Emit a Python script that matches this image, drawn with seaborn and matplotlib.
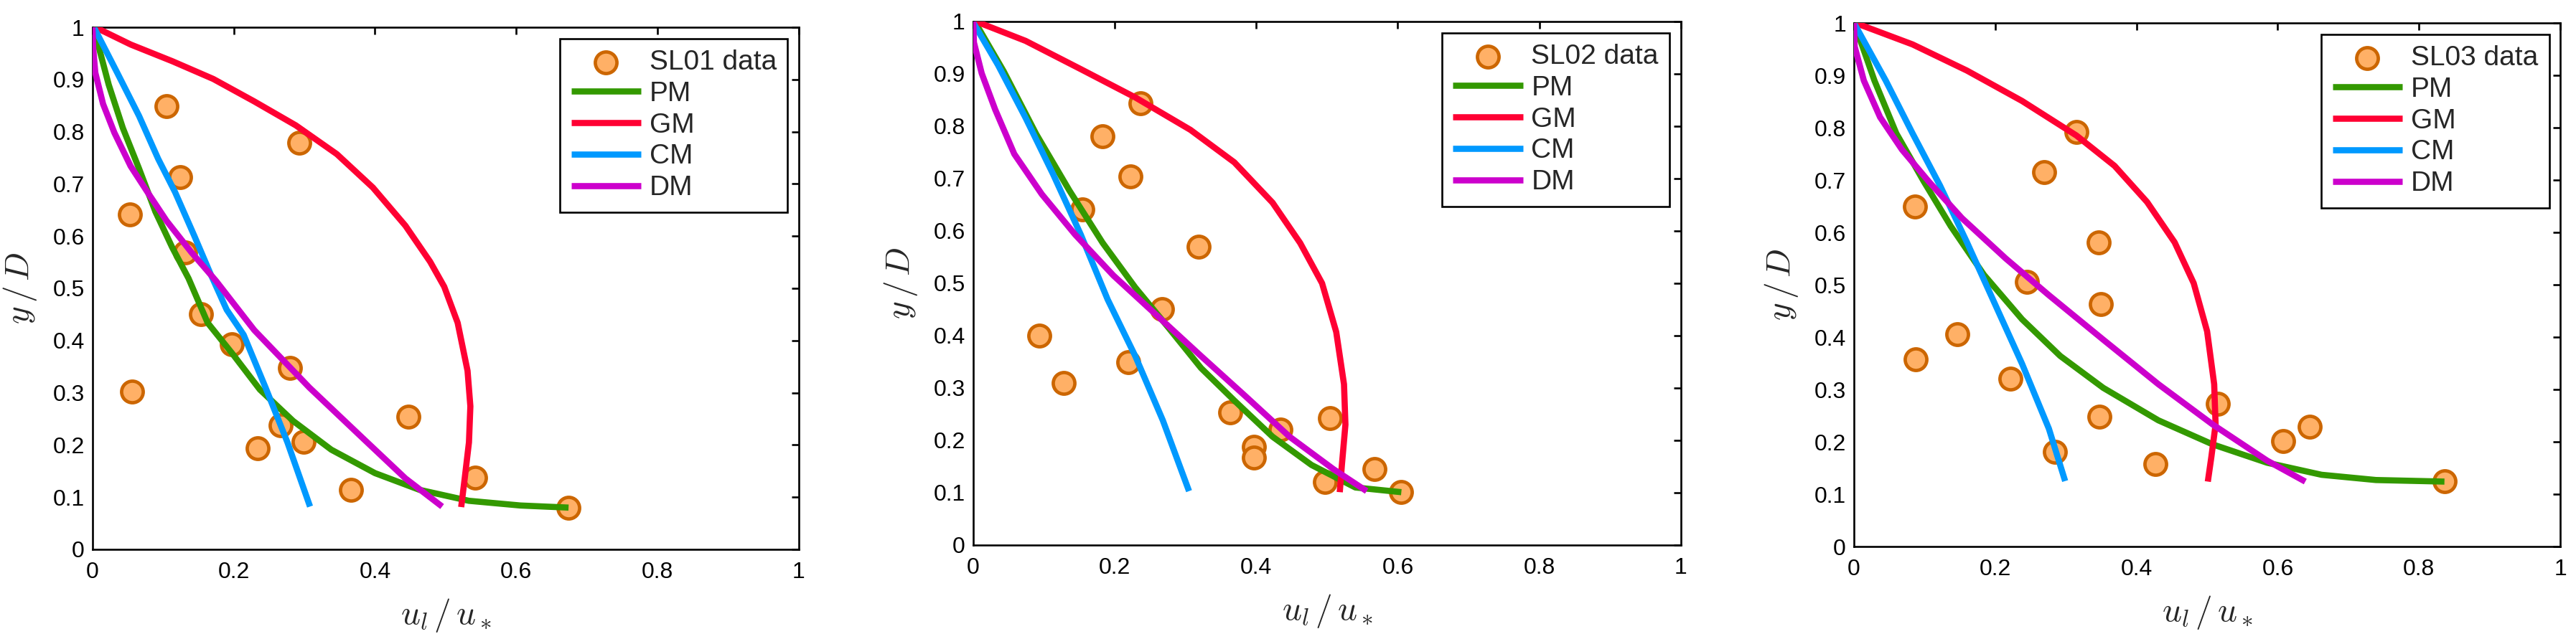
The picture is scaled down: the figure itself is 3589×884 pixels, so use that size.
import matplotlib
matplotlib.use("Agg")
import matplotlib.pyplot as plt
import seaborn as sns

# ---- data ----
names = ["SL01", "SL02", "SL03"]

# measured points
sl01_x = [0.105, 0.293, 0.124, 0.053, 0.131, 0.154, 0.197, 0.280, 0.056, 0.447, 0.266, 0.299, 0.234, 0.542, 0.366, 0.674]
sl01_y = [0.849, 0.779, 0.713, 0.641, 0.568, 0.450, 0.393, 0.347, 0.302, 0.254, 0.237, 0.206, 0.193, 0.137, 0.114, 0.080]
sl02_x = [0.236, 0.183, 0.222, 0.154, 0.319, 0.267, 0.093, 0.219, 0.128, 0.363, 0.504, 0.434, 0.397, 0.397, 0.567, 0.497, 0.605]
sl02_y = [0.844, 0.781, 0.704, 0.641, 0.570, 0.451, 0.400, 0.349, 0.309, 0.254, 0.242, 0.221, 0.188, 0.167, 0.145, 0.120, 0.102]
sl03_x = [0.315, 0.269, 0.086, 0.346, 0.245, 0.350, 0.146, 0.087, 0.222, 0.515, 0.348, 0.645, 0.608, 0.285, 0.427, 0.836]
sl03_y = [0.792, 0.715, 0.649, 0.581, 0.506, 0.463, 0.405, 0.358, 0.320, 0.272, 0.248, 0.229, 0.202, 0.181, 0.158, 0.124]

# model curves, SL01
pm1_x = [0.003, 0.006, 0.023, 0.043, 0.066, 0.089, 0.113, 0.136, 0.163, 0.198, 0.237, 0.284, 0.338, 0.400, 0.463, 0.533, 0.606, 0.674]
pm1_y = [0.995, 0.977, 0.890, 0.807, 0.729, 0.647, 0.578, 0.519, 0.434, 0.375, 0.306, 0.246, 0.191, 0.146, 0.114, 0.093, 0.084, 0.080]
gm1_x = [0.004, 0.054, 0.113, 0.171, 0.229, 0.288, 0.346, 0.397, 0.443, 0.478, 0.498, 0.517, 0.531, 0.535, 0.533, 0.527, 0.522]
gm1_y = [1.000, 0.967, 0.935, 0.901, 0.858, 0.812, 0.757, 0.693, 0.620, 0.551, 0.503, 0.434, 0.342, 0.274, 0.205, 0.136, 0.081]
cm1_x = [0.002, 0.035, 0.066, 0.093, 0.117, 0.144, 0.167, 0.190, 0.214, 0.245, 0.276, 0.308]
cm1_y = [1.000, 0.913, 0.830, 0.748, 0.684, 0.601, 0.528, 0.459, 0.411, 0.310, 0.205, 0.082]
dm1_x = [0.000, 0.001, 0.004, 0.015, 0.031, 0.054, 0.078, 0.105, 0.140, 0.175, 0.229, 0.307, 0.385, 0.443, 0.495]
dm1_y = [1.000, 0.960, 0.913, 0.853, 0.798, 0.734, 0.684, 0.629, 0.569, 0.514, 0.420, 0.310, 0.210, 0.136, 0.082]

# model curves, SL02
pm2_x = [0.003, 0.043, 0.089, 0.136, 0.183, 0.229, 0.276, 0.322, 0.369, 0.423, 0.478, 0.540, 0.605]
pm2_y = [0.998, 0.905, 0.785, 0.677, 0.577, 0.492, 0.415, 0.338, 0.276, 0.207, 0.153, 0.110, 0.101]
gm2_x = [0.004, 0.074, 0.152, 0.229, 0.307, 0.369, 0.423, 0.462, 0.493, 0.513, 0.524, 0.526, 0.521, 0.518]
gm2_y = [1.000, 0.963, 0.909, 0.855, 0.793, 0.731, 0.654, 0.577, 0.500, 0.407, 0.307, 0.230, 0.153, 0.101]
cm2_x = [0.000, 0.035, 0.074, 0.113, 0.152, 0.190, 0.229, 0.268, 0.305]
cm2_y = [0.998, 0.917, 0.816, 0.708, 0.593, 0.469, 0.361, 0.238, 0.103]
dm2_x = [0.000, 0.001, 0.012, 0.031, 0.058, 0.097, 0.144, 0.198, 0.260, 0.322, 0.385, 0.447, 0.509, 0.556]
dm2_y = [1.000, 0.960, 0.901, 0.832, 0.747, 0.670, 0.593, 0.515, 0.438, 0.361, 0.284, 0.207, 0.145, 0.103]

# model curves, SL03
pm3_x = [0.002, 0.029, 0.060, 0.099, 0.137, 0.184, 0.238, 0.292, 0.353, 0.431, 0.508, 0.585, 0.662, 0.739, 0.836]
pm3_y = [0.994, 0.890, 0.789, 0.697, 0.612, 0.519, 0.434, 0.364, 0.303, 0.241, 0.195, 0.160, 0.137, 0.127, 0.124]
gm3_x = [0.002, 0.083, 0.160, 0.238, 0.315, 0.369, 0.415, 0.454, 0.481, 0.500, 0.510, 0.512, 0.506, 0.501]
gm3_y = [1.000, 0.959, 0.909, 0.851, 0.785, 0.727, 0.658, 0.581, 0.503, 0.411, 0.310, 0.233, 0.171, 0.124]
cm3_x = [0.000, 0.045, 0.083, 0.122, 0.160, 0.199, 0.238, 0.276, 0.299]
cm3_y = [1.000, 0.890, 0.789, 0.689, 0.581, 0.465, 0.349, 0.225, 0.125]
dm3_x = [0.000, 0.001, 0.014, 0.037, 0.068, 0.106, 0.153, 0.215, 0.276, 0.353, 0.431, 0.508, 0.585, 0.639]
dm3_y = [1.000, 0.955, 0.890, 0.820, 0.758, 0.697, 0.627, 0.550, 0.480, 0.395, 0.310, 0.233, 0.164, 0.124]

xticks = [0, 0.2, 0.4, 0.6, 0.8, 1]
xticklabels = ["0", "0.2", "0.4", "0.6", "0.8", "1"]
yticks = [0, 0.1, 0.2, 0.3, 0.4, 0.5, 0.6, 0.7, 0.8, 0.9, 1]
yticklabels = ["0", "0.1", "0.2", "0.3", "0.4", "0.5", "0.6", "0.7", "0.8", "0.9", "1"]

panels = [
    (sl01_x, sl01_y, [(pm1_x, pm1_y), (gm1_x, gm1_y), (cm1_x, cm1_y), (dm1_x, dm1_y)]),
    (sl02_x, sl02_y, [(pm2_x, pm2_y), (gm2_x, gm2_y), (cm2_x, cm2_y), (dm2_x, dm2_y)]),
    (sl03_x, sl03_y, [(pm3_x, pm3_y), (gm3_x, gm3_y), (cm3_x, cm3_y), (dm3_x, dm3_y)]),
]
model_names = ["PM", "GM", "CM", "DM"]
model_colors = ["#339900", "#FF0033", "#0099FF", "#CC00CC"]

sns.set_style("white")
plt.rcParams["font.family"] = ["Liberation Sans", "DejaVu Sans"]
plt.rcParams["mathtext.fontset"] = "cm"

fig = plt.figure(figsize=(35.89, 8.84), dpi=100)
boxes = [
    [0.0359, 0.1335, 0.2742, 0.8235],
    [0.3778, 0.1403, 0.2747, 0.8258],
    [0.7197, 0.1380, 0.2742, 0.8258],
]

for i, (px, py, curves) in enumerate(panels):
    ax = fig.add_axes(boxes[i])
    sns.scatterplot(x=px, y=py, ax=ax, s=470, color="#FFB066", edgecolor="#CC6600",
                    linewidth=3.4, label=names[i] + " data", zorder=2)
    for (cx, cy), nm, col in zip(curves, model_names, model_colors):
        sns.lineplot(x=cx, y=cy, ax=ax, sort=False, estimator=None, color=col,
                     linewidth=6.2, label=nm, zorder=3, solid_joinstyle="round",
                     solid_capstyle="butt")

    ax.set_xlim(0, 1)
    ax.set_ylim(0, 1)
    ax.set_xticks(xticks)
    ax.set_xticklabels(xticklabels)
    ax.set_yticks(yticks)
    ax.set_yticklabels(yticklabels)
    ax.tick_params(direction="in", length=7.5, width=1.9, top=True, right=True,
                   labelsize=23, colors="black")
    ax.tick_params(axis="x", pad=12)
    ax.tick_params(axis="y", pad=8)
    for sp in ax.spines.values():
        sp.set_visible(True)
        sp.set_color("black")
        sp.set_linewidth(1.9)

    ax.set_xlabel(r"$u_l\,/\,u_*$", fontsize=34, labelpad=14)
    ax.set_ylabel(r"$y\,/\,D$", fontsize=34, labelpad=14)

    leg = ax.legend(loc="upper right", fontsize=28, frameon=True, fancybox=False,
                    edgecolor="black", framealpha=1, handlelength=2.5,
                    handletextpad=0.3, labelspacing=0.2, borderaxespad=0.4,
                    borderpad=0.4)
    leg.get_frame().set_linewidth(1.9)

fig.savefig("out.png", dpi=100)
